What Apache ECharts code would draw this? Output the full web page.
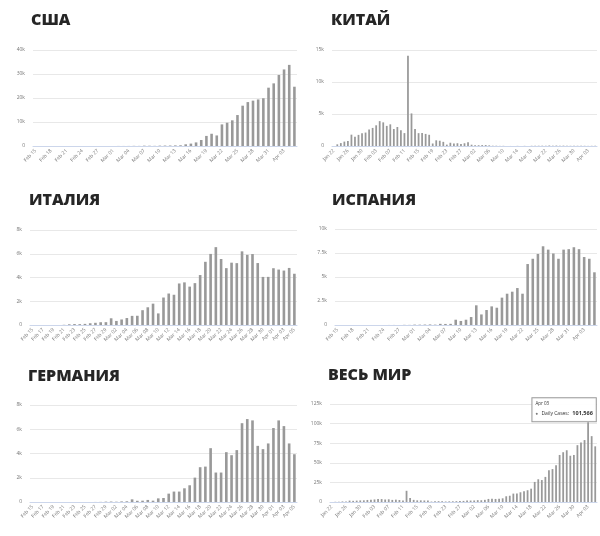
<!DOCTYPE html>
<html>
<head>
<meta charset="utf-8">
<script src="https://cdn.jsdelivr.net/npm/echarts@6/dist/echarts.min.js"></script>
<style>
html,body{margin:0;padding:0;background:#fff;}
#c{width:600px;height:536px;}
</style>
</head>
<body>
<div id="c"></div>
<script>
// ---- Titles ----
const titles = ['США', 'КИТАЙ', 'ИТАЛИЯ', 'ИСПАНИЯ', 'ГЕРМАНИЯ', 'ВЕСЬ МИР'];

// ---- Category start dates and counts ----
const usaStart = [2, 15], usaCount = 51;
const chinaStart = [1, 22], chinaCount = 75;
const italyStart = [2, 15], italyCount = 51;
const spainStart = [2, 15], spainCount = 51;
const germanyStart = [2, 15], germanyCount = 51;
const worldStart = [1, 22], worldCount = 75;

// ---- Daily new cases ----
const usaValues = [0,0,0,0,0,0,2,0,0,0,1,0,1,0,8,6,23,20,31,68,45,140,116,65,
  150,180,200,250,300,700,1000,1500,2500,4200,5100,4400,9000,9700,10700,12900,
  16800,18300,18900,19400,19900,24300,26100,29600,31900,33800,24700];

const chinaValues = [0,
  259,457,688,769,1771,1459,1737,1981,2099,
  2589,2825,3233,3886,3694,3143,3385,2652,2973,2467,2015,14108,5090,2641,2008,2048,1888,1749,391,889,823,648,214,508,406,433,327,427,573,
  202,125,119,139,143,99,44,40,19,24,15,8,11,20,16,21,13,34,39,41,46,39,78,47,67,55,54,45,31,48,36,
  35,31,19,30,39];

const italyValues = [0,0,0,0,0,0,
  17,59,78,72,94,147,185,234,239,
  566,342,466,587,769,778,1247,1492,1797,977,2313,2651,2547,3497,3590,3233,3526,4207,5322,5986,6557,5560,4789,5249,5210,6203,5909,5974,5217,4050,4053,
  4782,4668,4585,4805,4316];

const spainValues = [0,0,0,0,0,0,0,0,0,0,
  4,6,2,17,13,39,36,45,57,37,
  120,110,120,
  550,420,550,830,2050,1100,1560,1940,1800,2850,3260,3470,3850,3260,6350,6900,7400,8200,7850,7450,6900,7850,7900,8100,7900,7080,6900,5490];

const germanyValues = [0,0,0,0,0,0,0,0,0,0,0,2,5,10,31,38,25,49,60,
  220,100,110,170,110,300,330,690,860,860,1130,1380,2010,2870,2920,4440,2430,2430,4110,3860,4280,6500,6840,6730,4630,4360,4830,
  6100,6730,6260,4830,3940];

const worldValues = [0,
  270,470,700,790,1790,1480,1760,2010,2130,
  2610,2840,3250,3910,3730,3190,3420,2680,3000,2520,2060,14300,5150,2700,2100,2100,1950,1850,550,1000,1050,1000,650,850,900,1050,1200,1400,1800,
  1850,1950,2350,2250,2750,3900,4100,3900,4100,4700,7300,8000,10700,10700,12400,13800,15000,17000,25600,29000,28000,32000,40500,42000,47000,60000,63500,66000,59000,60000,72500,
  76000,79000,101566,84000,71000];

// ---- Y-axis scales ----
const yMax = [40000, 15000, 8000, 10000, 8000, 125000];
const yStep = [10000, 5000, 2000, 2500, 2000, 25000];
// x-label skip (every n+1 categories)
const xSkip = [2, 3, 1, 2, 1, 3];
const tipIndex = 72; // Apr 03 in the world panel

const MONTHS = ['Jan','Feb','Mar','Apr','May','Jun','Jul','Aug','Sep','Oct','Nov','Dec'];
function dateLabels(start, count) {
  const out = [];
  const t0 = Date.UTC(2020, start[0] - 1, start[1]);
  for (let i = 0; i < count; i++) {
    const d = new Date(t0 + i * 86400000);
    out.push(MONTHS[d.getUTCMonth()] + ' ' + String(d.getUTCDate()).padStart(2, '0'));
  }
  return out;
}

const cats = [
  dateLabels(usaStart, usaCount),
  dateLabels(chinaStart, chinaCount),
  dateLabels(italyStart, italyCount),
  dateLabels(spainStart, spainCount),
  dateLabels(germanyStart, germanyCount),
  dateLabels(worldStart, worldCount)
];
const vals = [usaValues, chinaValues, italyValues, spainValues, germanyValues, worldValues];

// ---- Layout ----
const grids = [
  {left: 33, top: 50, width: 264, height: 96},
  {left: 332, top: 50, width: 265, height: 96},
  {left: 30, top: 230, width: 267, height: 95},
  {left: 335, top: 229, width: 262, height: 96},
  {left: 30, top: 405, width: 267, height: 97},
  {left: 330, top: 404, width: 267, height: 98}
];
const titlePos = [
  {left: 31, top: 12}, {left: 331, top: 12},
  {left: 29, top: 192}, {left: 332, top: 192},
  {left: 28, top: 368}, {left: 328, top: 367}
];

const BAR = '#999999';
const fmtK = v => v === 0 ? '0' : (v / 1000) + 'k';

const option = {
  backgroundColor: '#fff',
  animation: false,
  title: titles.map((t, i) => ({
    text: t, left: titlePos[i].left, top: titlePos[i].top, padding: 0,
    textStyle: {fontFamily: 'Open Sans', fontWeight: 800, fontSize: 16, color: '#262626'}
  })),
  grid: grids.map(g => Object.assign({containLabel: false}, g)),
  xAxis: cats.map((c, i) => ({
    type: 'category', gridIndex: i, data: c,
    axisLine: {lineStyle: {color: '#ccd6eb'}},
    axisTick: {show: false},
    axisLabel: {interval: xSkip[i], rotate: 45, fontSize: 5, color: '#777', margin: 4, fontFamily: 'Open Sans'}
  })),
  yAxis: yMax.map((m, i) => ({
    type: 'value', gridIndex: i, min: 0, max: m, interval: yStep[i],
    axisLine: {show: false}, axisTick: {show: false},
    splitLine: {lineStyle: {color: '#e8e8e8', width: 1}},
    axisLabel: {fontSize: 5, color: '#777', margin: 8, formatter: fmtK, fontFamily: 'Open Sans'}
  })),
  series: vals.map((v, i) => ({
    type: 'bar', xAxisIndex: i, yAxisIndex: i,
    barWidth: '50%',
    itemStyle: {color: BAR},
    data: v.map((val, j) => {
      if (i === 5 && j === tipIndex) {
        return {
          value: val,
          label: {
            show: true, position: 'top', distance: 1, offset: [-24, 0],
            backgroundColor: 'rgba(255,255,255,0.95)', borderColor: '#999', borderWidth: 1,
            padding: [2, 3, 2, 3],
            formatter: p => '{d|' + p.name + '}\n{m|●} {k|Daily Cases:} {v|' + p.value.toLocaleString('en-US') + '}',
            rich: {
              d: {fontSize: 4.5, color: '#333', lineHeight: 7, fontFamily: 'Open Sans', align: 'left'},
              m: {fontSize: 4.5, color: '#777', fontFamily: 'Open Sans', lineHeight: 7},
              k: {fontSize: 5, color: '#333', fontFamily: 'Open Sans', lineHeight: 7},
              v: {fontSize: 5.5, color: '#333', fontWeight: 'bold', fontFamily: 'Open Sans', lineHeight: 7}
            }
          }
        };
      }
      return val;
    })
  }))
};

const chart = echarts.init(document.getElementById('c'), null, {renderer: 'canvas'});
chart.setOption(option);
</script>
</body>
</html>
